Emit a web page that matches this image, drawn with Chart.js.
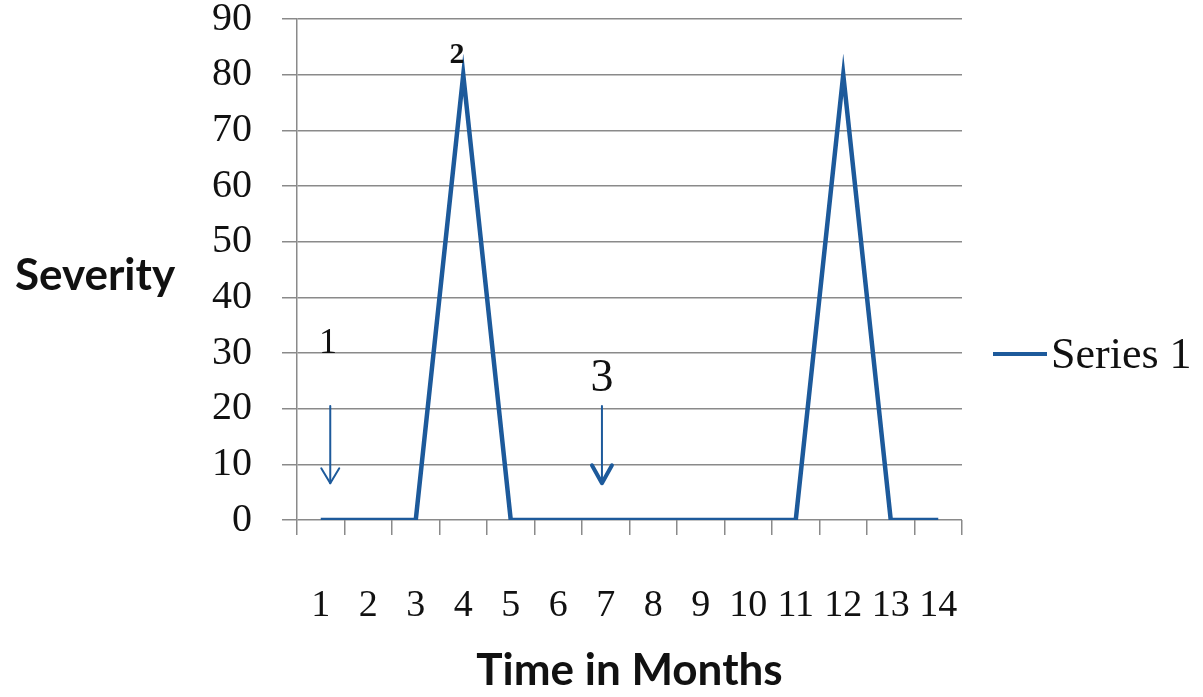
<!DOCTYPE html>
<html>
<head>
<meta charset="utf-8">
<script src="https://cdn.jsdelivr.net/npm/chart.js@4/dist/chart.umd.min.js"></script>
<style>
  html, body { margin: 0; padding: 0; background: #ffffff; }
  #wrap { width: 1203px; height: 697px; position: relative; }
</style>
</head>
<body>
<div id="wrap"><canvas id="chart"></canvas></div>
<script>
// Months on the horizontal axis
const months = ['1', '2', '3', '4', '5', '6', '7', '8', '9', '10', '11', '12', '13', '14'];
// Severity per month
const severity = [0, 0, 0, 80, 0, 0, 0, 0, 0, 0, 0, 80, 0, 0];
const seriesName = 'Series 1';
// Vertical axis range
const yMin = 0;
const yMax = 90;
const yStep = 10;
// Numbered call-outs placed over the plot
const noteLabels = ['1', '2', '3'];

const BLUE = '#1d5a9b';
const GRID = '#8a8a8a';
const SERIF = '"Liberation Serif", "DejaVu Serif", serif';
const SANS = 'Lato, "Open Sans", sans-serif';

function arrow(ctx, x, y1, y2, half, len, lw, headLw) {
  ctx.strokeStyle = BLUE;
  ctx.lineWidth = lw;
  ctx.lineCap = 'round';
  ctx.beginPath();
  ctx.moveTo(x, y1);
  ctx.lineTo(x, y2);
  ctx.stroke();
  ctx.lineWidth = headLw;
  ctx.lineJoin = 'round';
  ctx.beginPath();
  ctx.moveTo(x - half, y2 - len);
  ctx.lineTo(x, y2);
  ctx.lineTo(x + half, y2 - len);
  ctx.stroke();
}

// Draws the call-outs, the horizontal "Severity" title and the legend
const decorations = {
  id: 'decorations',
  afterDatasetsDraw(chart) {
    const { ctx, scales: { x, y } } = chart;
    ctx.save();
    ctx.fillStyle = '#111111';
    ctx.textAlign = 'center';
    ctx.textBaseline = 'alphabetic';

    // call-out 1 with thin arrow
    ctx.font = '36px ' + SERIF;
    ctx.fillText(noteLabels[0], x.getPixelForValue(0.15), y.getPixelForValue(30));
    arrow(ctx, x.getPixelForValue(0.2), y.getPixelForValue(20.5), y.getPixelForValue(6.6), 9, 15, 2, 2);

    // call-out 2 above the first peak
    ctx.font = 'bold 30px ' + SERIF;
    ctx.fillText(noteLabels[1], x.getPixelForValue(2.87), y.getPixelForValue(82.1));

    // call-out 3 with heavier arrow head
    ctx.font = '46px ' + SERIF;
    ctx.fillText(noteLabels[2], x.getPixelForValue(5.92), y.getPixelForValue(23.2));
    arrow(ctx, x.getPixelForValue(5.92), y.getPixelForValue(20.5), y.getPixelForValue(6.6), 10, 18, 2, 4);

    // vertical axis title, written horizontally
    ctx.font = 'bold 44px ' + SANS;
    ctx.textBaseline = 'middle';
    ctx.fillText('Severity', 95, 276);

    // legend
    ctx.strokeStyle = BLUE;
    ctx.lineWidth = 4;
    ctx.lineCap = 'butt';
    ctx.beginPath();
    ctx.moveTo(993, 354);
    ctx.lineTo(1047, 354);
    ctx.stroke();
    ctx.textAlign = 'left';
    ctx.textBaseline = 'alphabetic';
    ctx.font = '44px ' + SERIF;
    ctx.fillText(chart.data.datasets[0].label, 1051, 368);
    ctx.restore();
  }
};

new Chart(document.getElementById('chart'), {
  type: 'line',
  data: {
    labels: months,
    datasets: [{
      label: seriesName,
      data: severity,
      borderColor: BLUE,
      backgroundColor: BLUE,
      borderWidth: 4.5,
      pointRadius: 0,
      tension: 0,
      borderJoinStyle: 'miter'
    }]
  },
  options: {
    responsive: true,
    maintainAspectRatio: false,
    animation: false,
    layout: { padding: { top: 0, right: 241, bottom: 0, left: 0 } },
    plugins: {
      legend: { display: false },
      tooltip: { enabled: false }
    },
    scales: {
      x: {
        offset: true,
        afterFit(scale) { scale.height = 177; },
        grid: {
          offset: true,
          drawOnChartArea: false,
          drawTicks: true,
          tickLength: 15,
          color: GRID,
          lineWidth: 1.5
        },
        border: { display: false },
        ticks: {
          color: '#111111',
          padding: 48,
          maxRotation: 0,
          autoSkip: false,
          font: { family: SERIF, size: 38 }
        },
        title: {
          display: true,
          text: 'Time in Months',
          color: '#111111',
          padding: { top: 22, bottom: 0 },
          font: { family: SANS, size: 44, weight: 'bold' }
        }
      },
      y: {
        min: yMin,
        max: yMax,
        afterFit(scale) {
          scale.width = 297;
          scale.paddingTop = 19;
        },
        grid: {
          color: GRID,
          lineWidth: 1.5,
          tickLength: 15
        },
        border: { display: true, color: GRID, width: 1.5 },
        ticks: {
          stepSize: yStep,
          color: '#111111',
          padding: 30,
          font: { family: SERIF, size: 40, lineHeight: 0.95 }
        }
      }
    }
  },
  plugins: [decorations]
});
</script>
</body>
</html>
